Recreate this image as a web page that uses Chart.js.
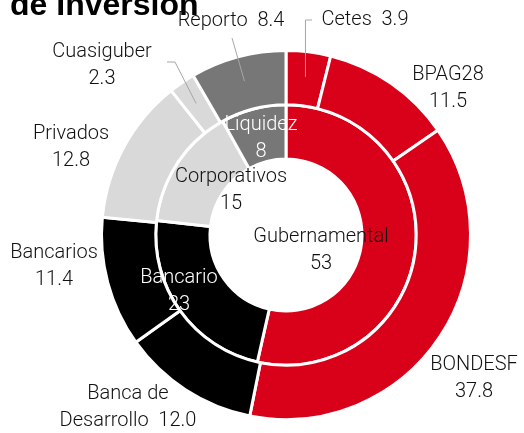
<!DOCTYPE html>
<html>
<head>
<meta charset="utf-8">
<script src="https://cdn.jsdelivr.net/npm/chart.js@4"></script>
<style>
    html, body { margin: 0; padding: 0; background: #fff; }
    #wrap { position: relative; width: 524px; height: 433px; }
</style>
</head>
<body>
<div id="wrap"><canvas id="myChart"></canvas></div>
<script>
// anillo exterior: instrumentos
const instrumentos = ["Cetes", "BPAG28", "BONDESF", "Banca de Desarrollo", "Bancarios", "Privados", "Cuasiguber", "Reporto"];
const instrumentosValor = [3.9, 11.5, 37.8, 12.0, 11.4, 12.8, 2.3, 8.4];

// anillo interior: sectores
const sectores = ["Gubernamental", "Bancario", "Corporativos", "Liquidez"];
const sectoresValor = [53, 23, 15, 8];

const ROJO = "#d9001a";
const NEGRO = "#000000";
const GRIS_CLARO = "#d9d9d9";
const GRIS = "#777777";

const coloresInstrumentos = [ROJO, ROJO, ROJO, NEGRO, NEGRO, GRIS_CLARO, GRIS_CLARO, GRIS];
const coloresSectores = [ROJO, NEGRO, GRIS_CLARO, GRIS];

const FUENTE = "300 20px Roboto, 'Liberation Sans', sans-serif";

// posiciones de etiquetas (respecto al centro del anillo)
const etiquetasExt = [
    { lineas: ["Cetes  3.9"], dx: 79, dy: -215, guia: "codo", gx: 26 },
    { lineas: ["BPAG28", "11.5"], dx: 162, dy: -147 },
    { lineas: ["BONDESF", "37.8"], dx: 188, dy: 143 },
    { lineas: ["Banca de", "Desarrollo  12.0"], dx: -158, dy: 172 },
    { lineas: ["Bancarios", "11.4"], dx: -232, dy: 31 },
    { lineas: ["Privados", "12.8"], dx: -215, dy: -88 },
    { lineas: ["Cuasiguber", "2.3"], dx: -184, dy: -170, guia: "codo", gx: -119, gy: -173 },
    { lineas: ["Reporto  8.4"], dx: -55, dy: -214, guia: "recta", gx: -54, gy: -197 },
];
const etiquetasInt = [
    { dx: 35, dy: 15, color: "#111" },
    { dx: -107, dy: 56, color: "#fff" },
    { dx: -55, dy: -45, color: "#111" },
    { dx: -25, dy: -97, color: "#fff" },
];

function texto(ctx, lineas, x, y, color) {
    ctx.fillStyle = color;
    const alto = 27;
    const y0 = y - (lineas.length - 1) * alto / 2;
    lineas.forEach((l, i) => ctx.fillText(l, x, y0 + i * alto));
}

const etiquetas = {
    id: "etiquetas",
    afterDatasetsDraw(chart) {
        const ctx = chart.ctx;
        const ext = chart.getDatasetMeta(0).data;
        const cx = ext[0].x;
        const cy = ext[0].y;
        ctx.save();

        // titulo (segunda linea, recortada arriba)
        ctx.font = "bold 32px 'Liberation Sans', Arial, sans-serif";
        ctx.fillStyle = "#000";
        ctx.textAlign = "left";
        ctx.textBaseline = "alphabetic";
        ctx.fillText("de Inversión", 10, 15);

        ctx.font = FUENTE;
        ctx.textAlign = "center";
        ctx.textBaseline = "middle";

        // lineas guia hacia el centro del arco
        ctx.strokeStyle = "#a6a6a6";
        ctx.lineWidth = 1;
        etiquetasExt.forEach((e, i) => {
            if (!e.guia) return;
            const arc = ext[i];
            const mid = (arc.startAngle + arc.endAngle) / 2;
            const r = (arc.innerRadius + arc.outerRadius) / 2 + 2;
            const px = cx + Math.cos(mid) * r;
            const py = cy + Math.sin(mid) * r;
            ctx.beginPath();
            if (e.guia === "codo" && e.gy === undefined) {
                // Cetes: codo arriba y baja vertical
                const top = cy + e.dy;
                ctx.moveTo(cx + e.gx, top);
                ctx.lineTo(px, top);
                ctx.lineTo(px, py);
            } else if (e.guia === "codo") {
                ctx.moveTo(cx + e.gx, cy + e.gy);
                ctx.lineTo(cx + e.gx + 8, cy + e.gy);
                ctx.lineTo(px, py);
            } else {
                ctx.moveTo(cx + e.gx, cy + e.gy);
                ctx.lineTo(px, py);
            }
            ctx.stroke();
        });

        etiquetasExt.forEach((e) => texto(ctx, e.lineas, cx + e.dx, cy + e.dy, "#111"));

        etiquetasInt.forEach((e, i) => {
            texto(ctx, [sectores[i], String(sectoresValor[i])], cx + e.dx, cy + e.dy, e.color);
        });
        ctx.restore();
    },
};

function main() {
    const ctx = document.getElementById("myChart");

    new Chart(ctx, {
        type: "doughnut",
        data: {
            labels: instrumentos,
            datasets: [
                {
                    label: "Instrumentos",
                    data: instrumentosValor,
                    backgroundColor: coloresInstrumentos,
                    borderColor: "#fff",
                    borderWidth: 3,
                    hoverOffset: 0,
                },
                {
                    label: "Sectores",
                    data: sectoresValor,
                    backgroundColor: coloresSectores,
                    borderColor: "#fff",
                    borderWidth: 3,
                    hoverOffset: 0,
                },
            ],
        },
        options: {
            responsive: true,
            maintainAspectRatio: false,
            animation: false,
            cutout: 76,
            layout: {
                padding: { left: 100, right: 52, top: 49, bottom: 12 },
            },
            plugins: {
                legend: { display: false },
                tooltip: { enabled: false },
            },
        },
        plugins: [etiquetas],
    });
}

main();
</script>
</body>
</html>
